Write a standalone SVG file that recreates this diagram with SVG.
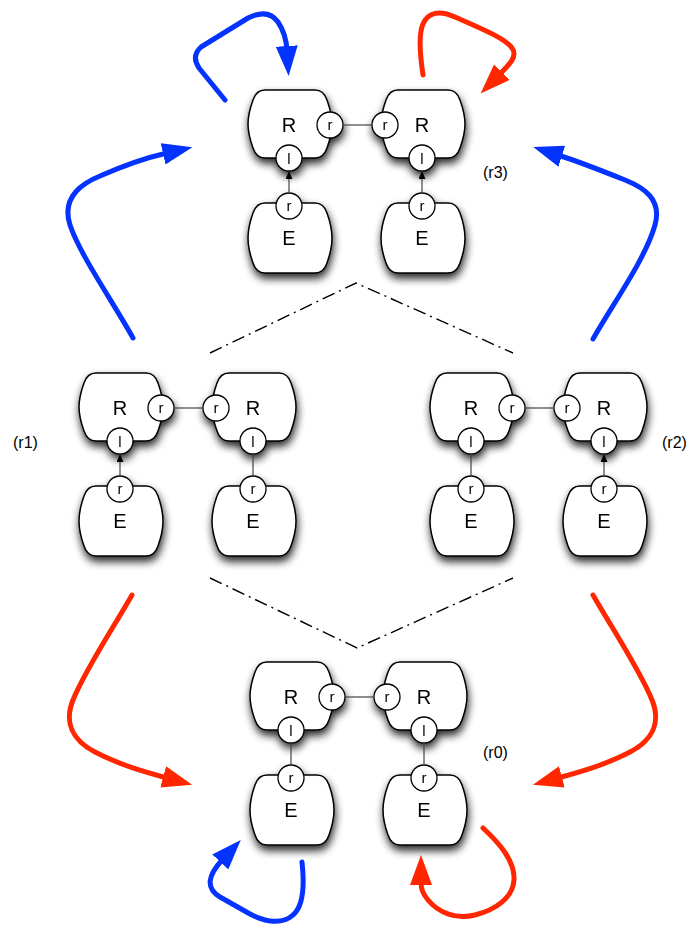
<svg xmlns="http://www.w3.org/2000/svg" xmlns:xlink="http://www.w3.org/1999/xlink" width="692" height="927" viewBox="0 0 692 927">
<style>
.box{fill:#fff;stroke:#000;stroke-width:1.5}
.port{fill:#fff;stroke:#000;stroke-width:1.3}
.big{font-family:"Liberation Sans",Arial,sans-serif;font-size:20px;text-anchor:middle;fill:#000}
.pt{font-family:"Liberation Sans",Arial,sans-serif;font-size:15px;text-anchor:middle;fill:#000}
.lab{font-family:"Liberation Sans",Arial,sans-serif;font-size:16px;fill:#000}
.link{stroke:#444;stroke-width:1.2;fill:none}
.sep{stroke:#000;stroke-width:1.4;fill:none;stroke-dasharray:13 5 2 5}
.blue{stroke:#0433ff;stroke-width:5;fill:none;stroke-linecap:round;stroke-linejoin:round;marker-end:url(#hb)}
.red{stroke:#ff2600;stroke-width:5;fill:none;stroke-linecap:round;stroke-linejoin:round;marker-end:url(#hr)}
</style>
<defs>
<filter id="sh" x="-30%" y="-30%" width="160%" height="170%">
<feGaussianBlur in="SourceAlpha" stdDeviation="4"/>
<feOffset dx="1" dy="5"/>
<feComponentTransfer><feFuncA type="linear" slope="0.85"/></feComponentTransfer>
<feMerge><feMergeNode/><feMergeNode in="SourceGraphic"/></feMerge>
</filter>
<path id="rbox" d="M17,0 H67 C73,0 77,4 79,10 C81.5,17 84,26 84,34 C84,42 81.5,51 79,58 C77,64 73,68 67,68 H17 C11,68 7,64 5,58 C2.5,51 0,42 0,34 C0,26 2.5,17 5,10 C7,4 11,0 17,0 Z"/>
<path id="ebox" d="M17,0 H67 C73,0 77,4 79,10 C81.5,17 84,27 84,35 C84,43 81.5,53 79,60 C77,66 73,70 67,70 H17 C11,70 7,66 5,60 C2.5,53 0,43 0,35 C0,27 2.5,17 5,10 C7,4 11,0 17,0 Z"/>
<marker id="hb" viewBox="0 0 30 22" refX="4" refY="11" markerWidth="30" markerHeight="22" markerUnits="userSpaceOnUse" orient="auto"><path d="M0,0 L30,11 L0,22 Z" fill="#0433ff"/></marker>
<marker id="hr" viewBox="0 0 30 22" refX="4" refY="11" markerWidth="30" markerHeight="22" markerUnits="userSpaceOnUse" orient="auto"><path d="M0,0 L30,11 L0,22 Z" fill="#ff2600"/></marker>
<marker id="ha" viewBox="0 0 8 7" refX="8" refY="3.5" markerWidth="8" markerHeight="7" markerUnits="userSpaceOnUse" orient="auto"><path d="M0,0 L8,3.5 L0,7 Z" fill="#000"/></marker>
</defs>

<!-- r3 (top) -->
<g id="r3-R1" filter="url(#sh)"><use xlink:href="#rbox" x="248" y="90" class="box"/><text class="big" x="289" y="132">R</text><circle class="port" cx="330" cy="125" r="13"/><text class="pt" x="330" y="129.5">r</text><circle class="port" cx="289" cy="158" r="13"/><text class="pt" x="289" y="163.5">l</text></g>
<g id="r3-R2" filter="url(#sh)"><use xlink:href="#rbox" x="381" y="90" class="box"/><text class="big" x="422" y="132">R</text><circle class="port" cx="385" cy="125" r="13"/><text class="pt" x="385" y="129.5">r</text><circle class="port" cx="422" cy="158" r="13"/><text class="pt" x="422" y="163.5">l</text></g>
<g id="r3-E1" filter="url(#sh)"><use xlink:href="#ebox" x="248" y="203" class="box"/><text class="big" x="289" y="245">E</text><circle class="port" cx="289" cy="206" r="13"/><text class="pt" x="289" y="210.5">r</text></g>
<g id="r3-E2" filter="url(#sh)"><use xlink:href="#ebox" x="381" y="203" class="box"/><text class="big" x="422" y="245">E</text><circle class="port" cx="422" cy="206" r="13"/><text class="pt" x="422" y="210.5">r</text></g>

<!-- r1 (middle left) -->
<g id="r1-R1" filter="url(#sh)"><use xlink:href="#rbox" x="79" y="373" class="box"/><text class="big" x="120" y="415">R</text><circle class="port" cx="161" cy="408" r="13"/><text class="pt" x="161" y="412.5">r</text><circle class="port" cx="120" cy="441" r="13"/><text class="pt" x="120" y="446.5">l</text></g>
<g id="r1-R2" filter="url(#sh)"><use xlink:href="#rbox" x="212" y="373" class="box"/><text class="big" x="253" y="415">R</text><circle class="port" cx="216" cy="408" r="13"/><text class="pt" x="216" y="412.5">r</text><circle class="port" cx="253" cy="441" r="13"/><text class="pt" x="253" y="446.5">l</text></g>
<g id="r1-E1" filter="url(#sh)"><use xlink:href="#ebox" x="79" y="486" class="box"/><text class="big" x="120" y="528">E</text><circle class="port" cx="120" cy="489" r="13"/><text class="pt" x="120" y="493.5">r</text></g>
<g id="r1-E2" filter="url(#sh)"><use xlink:href="#ebox" x="212" y="486" class="box"/><text class="big" x="253" y="528">E</text><circle class="port" cx="253" cy="489" r="13"/><text class="pt" x="253" y="493.5">r</text></g>

<!-- r2 (middle right) -->
<g id="r2-R1" filter="url(#sh)"><use xlink:href="#rbox" x="430" y="373" class="box"/><text class="big" x="471" y="415">R</text><circle class="port" cx="512" cy="408" r="13"/><text class="pt" x="512" y="412.5">r</text><circle class="port" cx="471" cy="441" r="13"/><text class="pt" x="471" y="446.5">l</text></g>
<g id="r2-R2" filter="url(#sh)"><use xlink:href="#rbox" x="563" y="373" class="box"/><text class="big" x="604" y="415">R</text><circle class="port" cx="567" cy="408" r="13"/><text class="pt" x="567" y="412.5">r</text><circle class="port" cx="604" cy="441" r="13"/><text class="pt" x="604" y="446.5">l</text></g>
<g id="r2-E1" filter="url(#sh)"><use xlink:href="#ebox" x="430" y="486" class="box"/><text class="big" x="471" y="528">E</text><circle class="port" cx="471" cy="489" r="13"/><text class="pt" x="471" y="493.5">r</text></g>
<g id="r2-E2" filter="url(#sh)"><use xlink:href="#ebox" x="563" y="486" class="box"/><text class="big" x="604" y="528">E</text><circle class="port" cx="604" cy="489" r="13"/><text class="pt" x="604" y="493.5">r</text></g>

<!-- r0 (bottom) -->
<g id="r0-R1" filter="url(#sh)"><use xlink:href="#rbox" x="250" y="662" class="box"/><text class="big" x="291" y="704">R</text><circle class="port" cx="332" cy="697" r="13"/><text class="pt" x="332" y="701.5">r</text><circle class="port" cx="291" cy="730" r="13"/><text class="pt" x="291" y="735.5">l</text></g>
<g id="r0-R2" filter="url(#sh)"><use xlink:href="#rbox" x="383" y="662" class="box"/><text class="big" x="424" y="704">R</text><circle class="port" cx="387" cy="697" r="13"/><text class="pt" x="387" y="701.5">r</text><circle class="port" cx="424" cy="730" r="13"/><text class="pt" x="424" y="735.5">l</text></g>
<g id="r0-E1" filter="url(#sh)"><use xlink:href="#ebox" x="250" y="775" class="box"/><text class="big" x="291" y="817">E</text><circle class="port" cx="291" cy="778" r="13"/><text class="pt" x="291" y="782.5">r</text></g>
<g id="r0-E2" filter="url(#sh)"><use xlink:href="#ebox" x="383" y="775" class="box"/><text class="big" x="424" y="817">E</text><circle class="port" cx="424" cy="778" r="13"/><text class="pt" x="424" y="782.5">r</text></g>

<!-- state labels -->
<g id="labels">
<text class="lab" x="483" y="178">(r3)</text>
<text class="lab" x="13" y="448">(r1)</text>
<text class="lab" x="662" y="448">(r2)</text>
<text class="lab" x="483" y="758">(r0)</text>
</g>

<!-- separators -->
<g id="separators">
<polyline class="sep" points="210,353 356,283 513,353"/>
<polyline class="sep" points="210,578 357,648 513,578"/>
</g>

<!-- connectors -->
<g id="connectors">
<line class="link" x1="343" y1="125" x2="372" y2="125"/>
<line class="link" x1="289" y1="193" x2="289" y2="171" marker-end="url(#ha)"/>
<line class="link" x1="422" y1="193" x2="422" y2="171" marker-end="url(#ha)"/>
<line class="link" x1="174" y1="408" x2="203" y2="408"/>
<line class="link" x1="120" y1="476" x2="120" y2="454" marker-end="url(#ha)"/>
<line class="link" x1="253" y1="476" x2="253" y2="454"/>
<line class="link" x1="525" y1="408" x2="554" y2="408"/>
<line class="link" x1="471" y1="476" x2="471" y2="454"/>
<line class="link" x1="604" y1="476" x2="604" y2="454" marker-end="url(#ha)"/>
<line class="link" x1="345" y1="697" x2="374" y2="697"/>
<line class="link" x1="291" y1="765" x2="291" y2="743"/>
<line class="link" x1="424" y1="765" x2="424" y2="743"/>

<path class="blue" d="M225,100 L199,68 Q191,56 201,47 L248,18 Q268,8 278,22 Q286,34 287,50"/>
<path class="red" d="M423,75 C420,55 418,35 423,24 C428,12 440,10 455,17 C480,28 505,38 512,48 C518,56 510,64 499,75"/>
<path class="blue" d="M133,338 C115,305 80,255 70,225 C62,200 78,185 100,176 C125,165 145,158 167,153"/>
<path class="blue" d="M593,339 C612,305 645,260 655,225 C662,200 645,188 625,180 C600,170 580,162 558,155"/>
<path class="red" d="M132,595 C115,625 85,670 73,700 C64,722 72,740 95,752 C120,765 145,772 167,778"/>
<path class="red" d="M593,595 C610,625 640,670 652,700 C661,722 653,740 630,752 C605,765 580,772 558,778"/>
<path class="blue" d="M302,862 C304,880 305,905 293,915 C282,925 265,922 250,914 L220,897 C205,888 208,875 223,859"/>
<path class="red" d="M483,828 C498,842 515,860 514,880 C513,898 495,910 475,915 C455,920 438,912 428,900 C422,893 421,888 421,881"/>
</g>
</svg>
